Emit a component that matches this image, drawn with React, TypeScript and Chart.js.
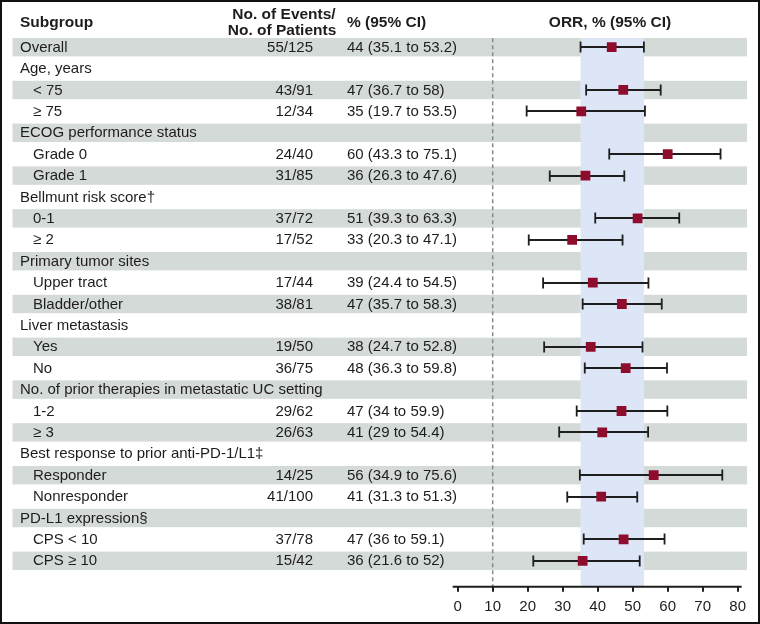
import React, { useEffect, useRef } from "react";
import { Chart, registerables } from "chart.js";

Chart.register(...registerables);

const subgroups = [
  "Overall", "Age, years", "< 75", "≥ 75", "ECOG performance status", "Grade 0", "Grade 1",
  "Bellmunt risk score†", "0-1", "≥ 2", "Primary tumor sites", "Upper tract", "Bladder/other",
  "Liver metastasis", "Yes", "No", "No. of prior therapies in metastatic UC setting", "1-2", "≥ 3",
  "Best response to prior anti-PD-1/L1‡", "Responder", "Nonresponder", "PD-L1 expression§",
  "CPS < 10", "CPS ≥ 10",
];
const subgroupLevel = [0, 0, 1, 1, 0, 1, 1, 0, 1, 1, 0, 1, 1, 0, 1, 1, 0, 1, 1, 0, 1, 1, 0, 1, 1];
const eventsText = [
  "55/125", "", "43/91", "12/34", "", "24/40", "31/85", "", "37/72", "17/52", "", "17/44", "38/81",
  "", "19/50", "36/75", "", "29/62", "26/63", "", "14/25", "41/100", "", "37/78", "15/42",
];
const orrText = [
  "44 (35.1 to 53.2)", "", "47 (36.7 to 58)", "35 (19.7 to 53.5)", "", "60 (43.3 to 75.1)",
  "36 (26.3 to 47.6)", "", "51 (39.3 to 63.3)", "33 (20.3 to 47.1)", "", "39 (24.4 to 54.5)",
  "47 (35.7 to 58.3)", "", "38 (24.7 to 52.8)", "48 (36.3 to 59.8)", "", "47 (34 to 59.9)",
  "41 (29 to 54.4)", "", "56 (34.9 to 75.6)", "41 (31.3 to 51.3)", "", "47 (36 to 59.1)",
  "36 (21.6 to 52)",
];
const orr = [44.0, null, 47.3, 35.3, null, 60.0, 36.5, null, 51.4, 32.7, null, 38.6, 46.9, null, 38.0, 48.0, null, 46.8, 41.3, null, 56.0, 41.0, null, 47.4, 35.7];
const ciLow = [35.1, null, 36.7, 19.7, null, 43.3, 26.3, null, 39.3, 20.3, null, 24.4, 35.7, null, 24.7, 36.3, null, 34, 29, null, 34.9, 31.3, null, 36, 21.6];
const ciHigh = [53.2, null, 58, 53.5, null, 75.1, 47.6, null, 63.3, 47.1, null, 54.5, 58.3, null, 52.8, 59.8, null, 59.9, 54.4, null, 75.6, 51.3, null, 59.1, 52];
const xTicks = [0, 10, 20, 30, 40, 50, 60, 70, 80];
const referenceValue = 10;
const headers = ["Subgroup", "No. of Events/", "No. of Patients", "% (95% CI)", "ORR, % (95% CI)"];

const FONT = '"Liberation Sans", Arial, Helvetica, sans-serif';
const TEXT = "#1f1c1d";

const forestPlugin = {
  id: "forest",
  beforeDraw(chart: any) {
    const { ctx, chartArea, scales } = chart;
    const x = scales.x, y = scales.y;
    ctx.save();
    ctx.fillStyle = "#ffffff";
    ctx.fillRect(0, 0, chart.width, chart.height);
    // stripes
    ctx.fillStyle = "#d4dad8";
    subgroups.forEach((_, i) => {
      if (i % 2 === 0) {
        const cy = y.getPixelForValue(i);
        ctx.fillRect(12.5, cy - 9.2, 734.5, 18.4);
      }
    });
    // band for overall CI
    const bx0 = x.getPixelForValue(ciLow[0] as number);
    const bx1 = x.getPixelForValue(ciHigh[0] as number);
    ctx.fillStyle = "#dde6f6";
    ctx.fillRect(bx0, chartArea.top, bx1 - bx0, chartArea.bottom - chartArea.top);
    // reference dashed line
    const rx = x.getPixelForValue(referenceValue);
    ctx.strokeStyle = "#8a8a8a";
    ctx.lineWidth = 1.5;
    ctx.setLineDash([4, 3]);
    ctx.beginPath();
    ctx.moveTo(rx, chartArea.top);
    ctx.lineTo(rx, chartArea.bottom);
    ctx.stroke();
    ctx.restore();
  },
  beforeDatasetsDraw(chart: any) {
    const { ctx, scales } = chart;
    const x = scales.x, y = scales.y;
    ctx.save();
    ctx.strokeStyle = "#1e1e1e";
    ctx.lineWidth = 1.8;
    subgroups.forEach((_, i) => {
      const lo = ciLow[i], hi = ciHigh[i];
      if (lo == null || hi == null) return;
      const cy = Math.round(y.getPixelForValue(i));
      const x0 = x.getPixelForValue(lo), x1 = x.getPixelForValue(hi);
      ctx.beginPath();
      ctx.moveTo(x0, cy);
      ctx.lineTo(x1, cy);
      ctx.moveTo(x0, cy - 5.5);
      ctx.lineTo(x0, cy + 5.5);
      ctx.moveTo(x1, cy - 5.5);
      ctx.lineTo(x1, cy + 5.5);
      ctx.stroke();
    });
    ctx.restore();
  },
  afterDraw(chart: any) {
    const { ctx, chartArea, scales } = chart;
    const x = scales.x, y = scales.y;
    ctx.save();
    // axis line
    ctx.strokeStyle = "#1e1e1e";
    ctx.lineWidth = 2;
    ctx.beginPath();
    ctx.moveTo(x.getPixelForValue(0) - 5, chartArea.bottom);
    ctx.lineTo(x.getPixelForValue(80) + 4, chartArea.bottom);
    ctx.stroke();
    // headers
    ctx.fillStyle = TEXT;
    ctx.font = `bold 15.5px ${FONT}`;
    ctx.textBaseline = "middle";
    ctx.textAlign = "left";
    ctx.fillText(headers[0], 20, 22.5);
    ctx.textAlign = "center";
    ctx.fillText(headers[1], 284, 14.5);
    ctx.fillText(headers[2], 282, 30.5);
    ctx.textAlign = "left";
    ctx.fillText(headers[3], 347, 22.5);
    ctx.textAlign = "center";
    ctx.fillText(headers[4], 610, 22.5);
    // rows
    ctx.font = `15px ${FONT}`;
    subgroups.forEach((label, i) => {
      const cy = y.getPixelForValue(i) + 0.5;
      ctx.textAlign = "left";
      ctx.fillText(label, subgroupLevel[i] ? 33 : 20, cy);
      if (eventsText[i]) {
        ctx.textAlign = "right";
        ctx.fillText(eventsText[i], 313, cy);
      }
      if (orrText[i]) {
        ctx.textAlign = "left";
        ctx.fillText(orrText[i], 347, cy);
      }
    });
    // frame
    ctx.strokeStyle = "#111";
    ctx.lineWidth = 2;
    ctx.strokeRect(1, 1, chart.width - 2, chart.height - 2);
    ctx.restore();
  },
};

export default function App() {
  const ref = useRef<HTMLCanvasElement | null>(null);
  useEffect(() => {
    if (!ref.current) return;
    const points = subgroups
      .map((_, i) => (orr[i] == null ? null : { x: orr[i] as number, y: i }))
      .filter((p) => p !== null);
    const chart = new Chart(ref.current, {
      type: "scatter",
      data: {
        datasets: [
          {
            data: points as any,
            pointStyle: "rect",
            pointRadius: 6.9,
            pointHoverRadius: 6.9,
            backgroundColor: "#8e0c2c",
            borderColor: "#8e0c2c",
            borderWidth: 0,
          },
        ],
      },
      options: {
        responsive: false,
        animation: false,
        events: [],
        layout: { padding: { left: 457.7, right: 22.3, top: 38.2, bottom: 7.3 } },
        plugins: { legend: { display: false }, tooltip: { enabled: false } },
        scales: {
          x: {
            type: "linear",
            min: 0,
            max: 80,
            afterBuildTicks: (s: any) => {
              s.ticks = xTicks.map((v) => ({ value: v }));
            },
            afterFit: (s: any) => {
              s.height = 30;
            },
            border: { display: false },
            grid: { drawOnChartArea: false, drawTicks: true, tickLength: 5, color: "#1e1e1e", lineWidth: 2 },
            ticks: { color: TEXT, font: { family: FONT, size: 15 }, padding: 6, maxRotation: 0, autoSkip: false },
          },
          y: {
            type: "linear",
            reverse: true,
            min: -0.42,
            max: 25.21,
            display: false,
          },
        },
      },
      plugins: [forestPlugin],
    });
    return () => chart.destroy();
  }, []);
  return (
    <div style={{ position: "absolute", left: 0, top: 0, width: 760, height: 624 }}>
      <canvas ref={ref} width={760} height={624} style={{ display: "block" }} />
    </div>
  );
}
